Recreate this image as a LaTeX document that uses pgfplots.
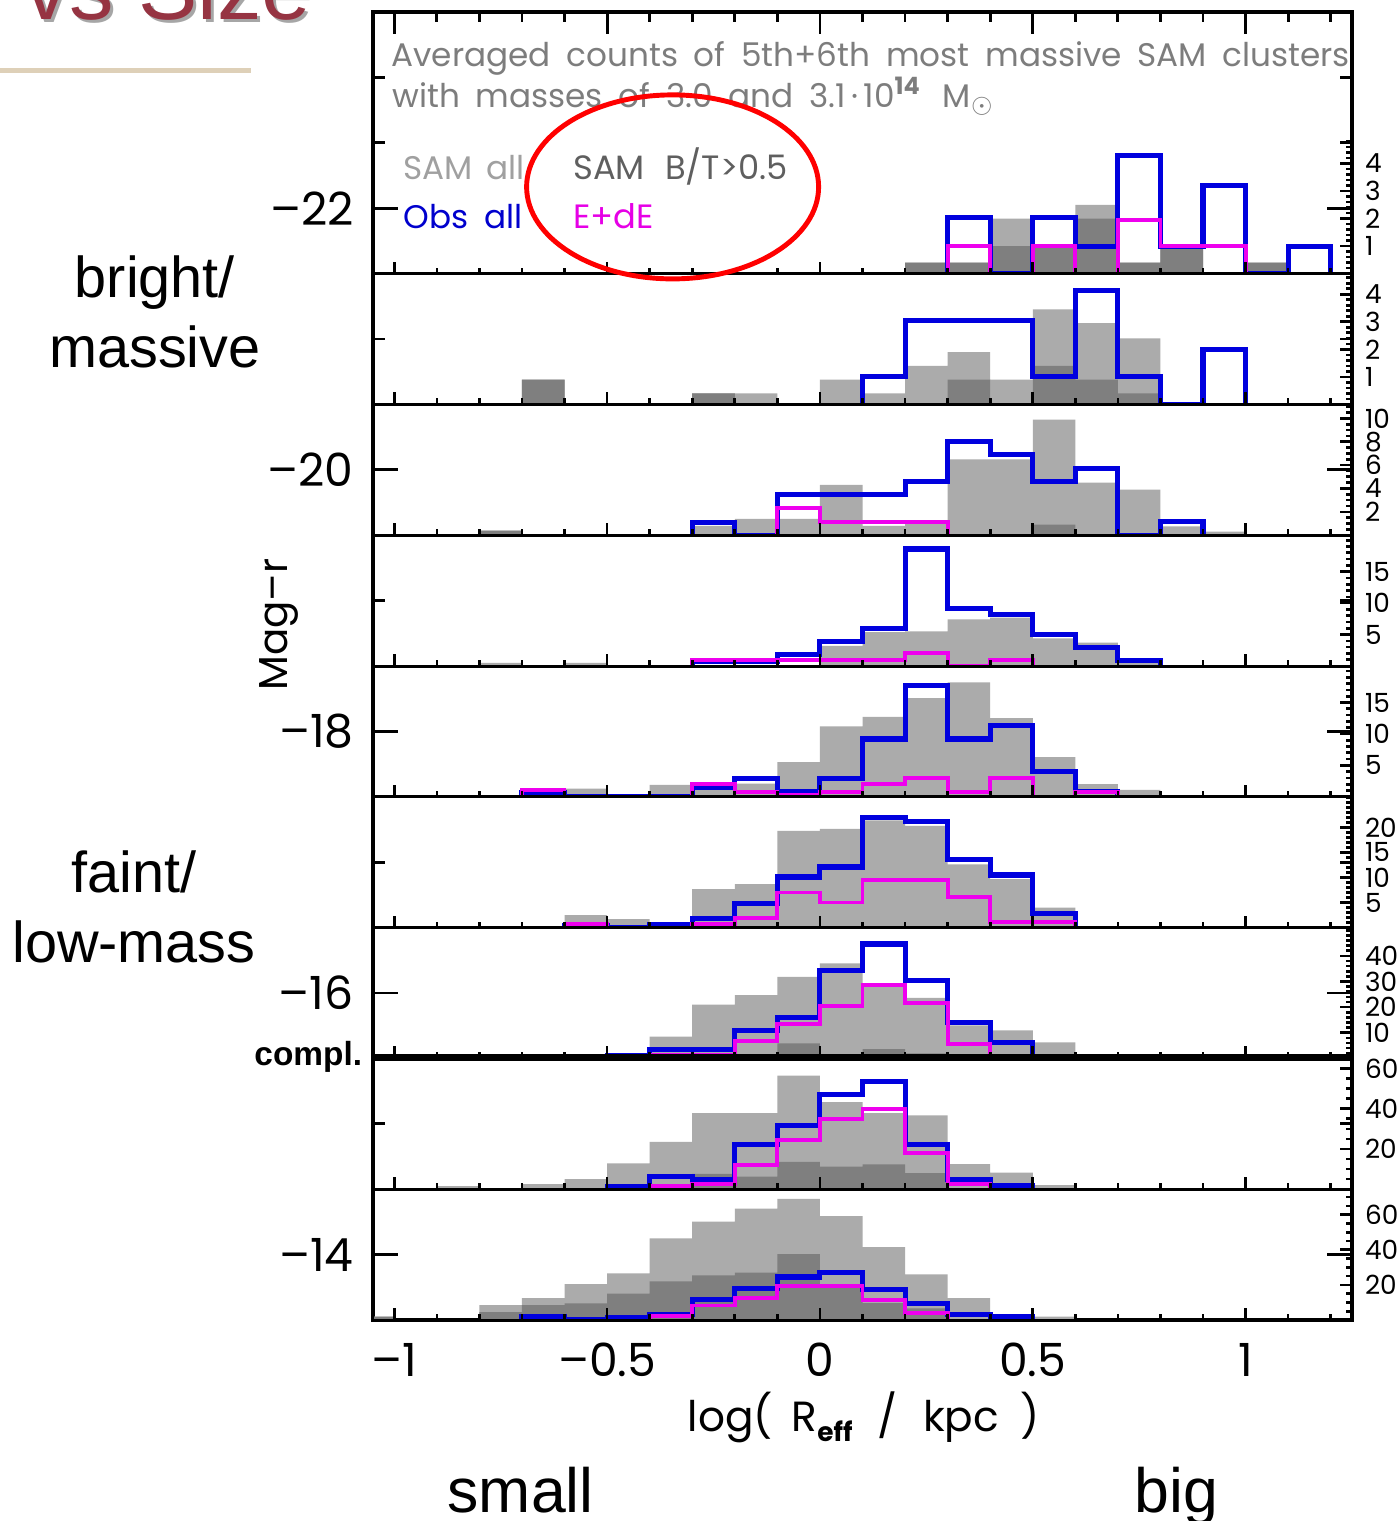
\documentclass[border=0pt]{standalone}
\usepackage{pgfplots}
\usepackage{pgfplotstable}
\pgfplotsset{compat=1.18}
\usepackage{fontspec}
\setmainfont{Liberation Sans}
\newfontfamily\idl{Poppins}[WordSpace=1.8]
\definecolor{lgray}{RGB}{171,171,171}
\definecolor{dgray}{RGB}{127,127,127}
\definecolor{oblue}{RGB}{0,0,222}
\definecolor{emag}{RGB}{238,0,238}
\definecolor{titlered}{RGB}{150,52,66}
\definecolor{tanline}{RGB}{222,208,184}
\definecolor{hdrgray}{RGB}{125,125,125}
\definecolor{samall}{RGB}{160,160,160}
\definecolor{sambt}{RGB}{95,95,95}
\definecolor{legblue}{RGB}{0,0,205}
\definecolor{legmag}{RGB}{230,0,230}

% SAM histograms: L = SAM all (light gray), D = SAM B/T>0.5 (dark gray); x = left bin edge
\pgfplotstableread{
x L D
0.2 0 0
0.2 0.4 0.4
0.3 0.4 0.4
0.4 2.0 1.0
0.5 1.0 1.0
0.6 2.5 2.0
0.7 0.4 0.4
0.8 1.0 1.0
0.9 0 0
1.0 0.4 0.4
1.1 0 0
}\Pone
\pgfplotstableread{
x L D
-0.7 0 0
-0.7 0.9 0.9
-0.6 0 0
-0.3 0.4 0.4
-0.2 0.4 0
-0.1 0 0
0.0 0.9 0
0.1 0.4 0
0.2 1.4 0
0.3 1.9 0.9
0.4 0.9 0
0.5 3.45 1.4
0.6 2.95 0.9
0.7 2.4 0.4
0.8 0 0
}\Ptwo
\pgfplotstableread{
x L D
-0.8 0 0
-0.8 0.4 0.4
-0.7 0 0
-0.3 0.8 0
-0.2 1.4 0
-0.1 1.4 0
0.0 4.3 0
0.1 0.8 0
0.2 1.0 0
0.3 6.5 0
0.4 6.5 0
0.5 9.9 0.9
0.6 4.5 0
0.7 3.9 0
0.8 0.75 0
0.9 0.3 0
1.0 0 0
}\Pthree
\pgfplotstableread{
x L D
-0.8 0 0
-0.8 0.5 0
-0.7 0 0
-0.6 0.5 0
-0.5 0 0
0.0 3.2 0
0.1 5.4 0
0.2 5.5 0
0.3 7.4 0
0.4 7.7 0
0.5 4.4 0
0.6 3.7 0
0.7 0.9 0
0.8 0 0
}\Pfour
\pgfplotstableread{
x L D
-0.6 0 0
-0.6 1.3 0
-0.5 0 0
-0.4 1.9 0
-0.3 1.5 0
-0.2 2.1 0
-0.1 5.5 0
0.0 11.2 0
0.1 12.7 0
0.2 15.7 0
0.3 18.2 0
0.4 12.5 0
0.5 6.3 0
0.6 2.0 0
0.7 1.1 0
0.8 0 0
}\Pfive
\pgfplotstableread{
x L D
-0.6 0 0
-0.6 2.5 0
-0.5 1.7 0
-0.4 0 0
-0.3 7.7 0
-0.2 8.7 0
-0.1 19.3 0.3
0.0 19.7 0
0.1 21.4 0
0.2 20.3 0
0.3 12.6 0
0.4 9.7 0
0.5 4.0 0
0.6 0 0
}\Psix
\pgfplotstableread{
x L D
-0.8 0 0
-0.8 1.0 0
-0.7 1.2 0
-0.6 1.5 0
-0.5 0 0
-0.4 8.5 0
-0.3 21 0
-0.2 24.7 0
-0.1 31.8 5.9
0.0 37.1 1.0
0.1 28 3.6
0.2 23.6 2.0
0.3 12.9 0
0.4 10.9 0
0.5 6.3 0
0.6 0 0
}\Pseven
\pgfplotstableread{
x L D
-0.9 0 0
-0.9 1.5 0
-0.8 0 0
-0.7 2.5 0
-0.6 5.0 0
-0.5 12.8 0
-0.4 23.5 0
-0.3 37.8 7.6
-0.2 37.8 6.3
-0.1 56.4 13.6
0.0 43.3 11.2
0.1 37.8 12.4
0.2 36.7 8.0
0.3 12.5 0
0.4 8.3 0
0.5 2.0 0
0.6 0 0
}\Peight
\pgfplotstableread{
x L D
-1.1 0 0
-1.1 2 2
-1.0 0 0
-0.8 8.5 4.5
-0.7 12.5 8.5
-0.6 20.5 9.5
-0.5 26.5 15
-0.4 46.5 22
-0.3 56 25.4
-0.2 63.5 27
-0.1 69 37.5
0.0 59.2 18.5
0.1 41.5 9.6
0.2 26 6.7
0.3 12.5 0
0.4 0 0
0.5 1.9 0
0.6 0 0
}\Pnine

\pgfplotsset{
  panel/.style={
    scale only axis, width=9.79cm, height=1.308cm,
    xmin=-1.05, xmax=1.25, ymin=0,
    anchor=south west,
    axis on top,
    xtick={-1,-0.5,0,0.5,1},
    minor xtick={-1,-0.9,-0.8,-0.7,-0.6,-0.5,-0.4,-0.3,-0.2,-0.1,0,0.1,0.2,0.3,0.4,0.5,0.6,0.7,0.8,0.9,1,1.1,1.2},
    xticklabels={},
    xtick pos=left, ytick pos=right, yticklabel pos=right,
    tick align=inside,
    major tick length=0.12cm, minor tick length=0.06cm,
    every tick/.style={black, line width=0.75pt},
    axis line style={line width=0.85pt},
    /pgf/number format/assume math mode=true,
    yticklabel style={font=\idl\fontsize{7.5}{8}\selectfont, inner sep=1pt, xshift=2.5pt},
    every axis plot/.append style={const plot mark left},
  },
  lfill/.style={fill=lgray, draw=none},
  dfill/.style={fill=dgray, draw=none},
  bline/.style={oblue, line width=1.45pt},
  mline/.style={emag, line width=1.1pt},
}

\newcommand{\sam}[1]{%
  \addplot[lfill] table[x=x,y=L]{#1} \closedcycle;
  \addplot[dfill] table[x=x,y=D]{#1} \closedcycle;
}

\begin{document}
\begin{tikzpicture}
% main frame (magnitude axis)
\begin{axis}[
  scale only axis, width=9.79cm, height=13.08cm,
  at={(3.73cm,-13.2cm)}, anchor=south west,
  xmin=-1.05, xmax=1.25, ymin=-23.5, ymax=-13.5, y dir=reverse,
  xtick=\empty,
  ytick={-22,-20,-18,-16,-14},
  yticklabels={–22,–20,–18,–16,–14},
  minor ytick={-23.5,-23,...,-13.5},
  ytick pos=both, yticklabel pos=left,
  tick align=inside,
  major tick length=0.25cm, minor tick length=0.12cm,
  every tick/.style={black, line width=0.8pt},
  axis line style={line width=0.9pt},
  yticklabel style={font=\idl\fontsize{13}{14}\selectfont, xshift=-2pt},
]
\end{axis}

% top ticks of the top panel
\begin{axis}[
  scale only axis, width=9.79cm, height=2.616cm,
  at={(3.73cm,-2.736cm)}, anchor=south west,
  xmin=-1.05, xmax=1.25, ymin=0, ymax=1,
  axis line style={draw=none},
  xtick={-1,-0.5,0,0.5,1},
  minor xtick={-1,-0.9,-0.8,-0.7,-0.6,-0.5,-0.4,-0.3,-0.2,-0.1,0,0.1,0.2,0.3,0.4,0.5,0.6,0.7,0.8,0.9,1,1.1,1.2},
  xticklabels={}, xtick pos=right, ytick=\empty,
  tick align=inside,
  major tick length=0.22cm, minor tick length=0.1cm,
  every tick/.style={black, line width=0.8pt},
]
\end{axis}

% panel 1 (top, double height)
\begin{axis}[panel, at={(3.73cm,-2.736cm)}, height=2.616cm, ymax=9.5,
  ytick={1,2,3,4}, minor ytick={0.2,0.4,...,4.81}]
\sam{\Pone}
\addplot[bline] coordinates {(0.3,0)(0.3,2.05)(0.4,0)(0.5,2.05)(0.6,1.0)(0.7,4.3)(0.8,1.0)(0.9,3.2)(1.0,0)(1.1,1.0)(1.2,0)};
\addplot[mline] coordinates {(0.3,0)(0.3,1.0)(0.4,0)(0.5,1.0)(0.6,0)(0.7,1.95)(0.8,1.0)(1.0,0)};
\end{axis}
% panel 2
\begin{axis}[panel, at={(3.73cm,-4.044cm)}, ymax=4.75,
  ytick={1,2,3,4}, minor ytick={0.2,0.4,...,4.61}]
\sam{\Ptwo}
\addplot[bline] coordinates {(0.1,0)(0.1,1.0)(0.2,3.05)(0.5,1.0)(0.6,4.15)(0.7,1.0)(0.8,0)(0.9,2.0)(1.0,0)};
\end{axis}
% panel 3
\begin{axis}[panel, at={(3.73cm,-5.352cm)}, ymax=11.2,
  ytick={2,4,6,8,10}, minor ytick={0.5,1,...,11}]
\sam{\Pthree}
\addplot[bline] coordinates {(-0.3,0)(-0.3,1.1)(-0.2,0)(-0.1,3.5)(0.2,4.6)(0.3,8.0)(0.4,6.9)(0.5,4.6)(0.6,5.7)(0.7,0)(0.8,1.2)(0.9,0)};
\addplot[mline] coordinates {(-0.1,0)(-0.1,2.3)(0.0,1.15)(0.3,0)};
\end{axis}
% panel 4
\begin{axis}[panel, at={(3.73cm,-6.660cm)}, ymax=20.8,
  ytick={5,10,15}, minor ytick={1,2,...,20}]
\sam{\Pfour}
\addplot[bline] coordinates {(-0.3,0)(-0.3,0.8)(-0.1,1.9)(0.0,3.9)(0.1,6.0)(0.2,18.6)(0.3,9.2)(0.4,8.2)(0.5,5.0)(0.6,3.0)(0.7,0.9)(0.8,0)};
\addplot[mline] coordinates {(-0.3,0)(-0.3,0.9)(-0.1,1.0)(0.2,2.1)(0.3,0)(0.4,1.0)(0.5,0)};
\end{axis}
% panel 5
\begin{axis}[panel, at={(3.73cm,-7.968cm)}, ymax=20.8,
  ytick={5,10,15}, minor ytick={1,2,...,20}]
\sam{\Pfive}
\addplot[bline] coordinates {(-0.7,0)(-0.7,0.7)(-0.6,0)(-0.3,1.5)(-0.2,2.9)(-0.1,0.8)(0.0,2.9)(0.1,9.2)(0.2,17.7)(0.3,9.2)(0.4,11.4)(0.5,4.0)(0.6,0.8)(0.7,0)};
\addplot[mline] coordinates {(-0.7,0)(-0.7,1.1)(-0.6,0)(-0.3,2.0)(-0.2,0.8)(-0.1,0.3)(0.0,0.8)(0.1,2.0)(0.2,3.0)(0.3,0.8)(0.4,3.0)(0.5,0)(0.6,0.8)(0.7,0)};
\end{axis}
% panel 6
\begin{axis}[panel, at={(3.73cm,-9.276cm)}, ymax=26.1,
  ytick={5,10,15,20}, minor ytick={1,2,...,26}]
\sam{\Psix}
\addplot[bline] coordinates {(-0.6,0)(-0.6,0.5)(-0.5,0)(-0.4,0.7)(-0.3,1.9)(-0.2,4.9)(-0.1,10.1)(0.0,12.1)(0.1,22.0)(0.2,21.2)(0.3,13.6)(0.4,10.5)(0.5,2.8)(0.6,0)};
\addplot[mline] coordinates {(-0.6,0)(-0.6,0.8)(-0.5,0)(-0.3,0.7)(-0.2,2.0)(-0.1,7.0)(0.0,5.0)(0.1,9.5)(0.3,6.1)(0.4,1.1)(0.6,0)};
\end{axis}
% panel 7
\begin{axis}[panel, at={(3.73cm,-10.584cm)}, ymax=51,
  ytick={10,20,30,40}, minor ytick={2,4,...,50}]
\sam{\Pseven}
\addplot[bline] coordinates {(-0.5,0)(-0.5,1.0)(-0.4,3.3)(-0.2,10.8)(-0.1,15.8)(0.0,34.2)(0.1,44.6)(0.2,30.3)(0.3,13.9)(0.4,6.3)(0.5,0)};
\addplot[mline] coordinates {(-0.4,0)(-0.4,1.3)(-0.2,6.8)(-0.1,13.4)(0.0,20.4)(0.1,28.6)(0.2,21.5)(0.3,5.6)(0.4,0)};
\end{axis}
% panel 8
\begin{axis}[panel, at={(3.73cm,-11.892cm)}, ymax=65,
  ytick={20,40,60}, minor ytick={5,10,...,65}]
\sam{\Peight}
\addplot[bline] coordinates {(-0.5,0)(-0.5,1.3)(-0.4,6.5)(-0.3,5.0)(-0.2,22.0)(-0.1,31.5)(0.0,47.0)(0.1,53.5)(0.2,22.2)(0.3,5.0)(0.4,1.7)(0.5,0)};
\addplot[mline] coordinates {(-0.4,0)(-0.4,1.6)(-0.3,2.5)(-0.2,12.0)(-0.1,24.5)(0.0,34.9)(0.1,40.0)(0.2,18.0)(0.3,2.5)(0.4,0)};
\end{axis}
% panel 9 (bottom, with x tick labels)
\begin{axis}[panel, at={(3.73cm,-13.2cm)}, ymax=74.5,
  ytick={20,40,60}, minor ytick={5,10,...,70},
  xticklabels={–1,–0.5,0,0.5,1},
  xticklabel style={font=\idl\fontsize{13}{14}\selectfont, yshift=-3pt}]
\sam{\Pnine}
\addplot[bline] coordinates {(-0.7,0)(-0.7,2.0)(-0.6,0)(-0.5,1.4)(-0.4,3.2)(-0.3,11.8)(-0.2,17.9)(-0.1,24.5)(0.0,27)(0.1,17.3)(0.2,9.6)(0.3,2.9)(0.4,1.9)(0.5,0)};
\addplot[mline] coordinates {(-0.4,0)(-0.4,2.3)(-0.3,8.3)(-0.2,12.7)(-0.1,19.4)(0.1,11.5)(0.2,3.8)(0.3,0)};
\end{axis}

\begin{scope}[x=0.01cm, y=-0.01cm]
  % completeness limit
  \draw[line width=1.9pt] (373,1058.4) -- (1352,1058.4);
  \node[anchor=base east, inner sep=0, font=\bfseries\fontsize{9.5}{11}\selectfont] at (363,1066) {compl.};
  % header texts in the top panel
  \node[anchor=base west, inner sep=0, text=hdrgray, font=\idl\fontsize{9.3}{10}\selectfont] at (391,67)
    {Averaged counts of 5th+6th most massive SAM clusters};
  \node[anchor=base west, inner sep=0, text=hdrgray, font=\idl\fontsize{9.3}{10}\selectfont] at (392,108)
    {with masses of 3.0 and 3.1\,·\,10\raisebox{0.75ex}{\fontsize{6.8}{7}\selectfont\bfseries 14}\hspace{0.7em}M$_\odot$};
  \node[anchor=base west, inner sep=0, text=samall, font=\idl\fontsize{9.3}{11}\selectfont] at (403,180) {SAM\hspace{0.42em}all};
  \node[anchor=base west, inner sep=0, text=sambt, font=\idl\fontsize{9.6}{11}\selectfont] at (573,180) {SAM\hspace{0.6em}B/T>0.5};
  \node[anchor=base west, inner sep=0, text=legblue, font=\idl\fontsize{9.3}{11}\selectfont] at (403,229) {Obs\hspace{0.5em}all};
  \node[anchor=base west, inner sep=0, text=legmag, font=\idl\fontsize{9.6}{11}\selectfont] at (573,229) {E+dE};
  % red ellipse
  \draw[red, line width=1.4pt] (673,187) ellipse [x radius=1.46cm, y radius=0.92cm];
  % axis titles
  \node[rotate=90, inner sep=0, font=\idl\fontsize{11.5}{13}\selectfont] at (279,625) {Mag–r};
  \node[anchor=base, inner sep=0, font=\idl\fontsize{12}{14}\selectfont] at (864,1432)
    {log(\hspace{0.45em}R\raisebox{-0.45ex}{\fontsize{7.5}{8}\selectfont\bfseries eff}\hspace{0.6em}/\hspace{0.6em}kpc\hspace{0.5em})};
  % slide texts
  \node[anchor=base west, inner sep=0, font=\fontsize{25.3}{28}\selectfont, text=black!35] at (27,23) {vs Size};
  \node[anchor=base west, inner sep=0, font=\fontsize{25.3}{28}\selectfont, text=titlered] at (24,20) {vs Size};
  \draw[tanline, line width=1.4pt] (0,70.5) -- (251,70.5);
  \node[anchor=base, inner sep=0, font=\fontsize{16.4}{18}\selectfont] at (155,298) {bright/};
  \node[anchor=base, inner sep=0, font=\fontsize{16.4}{18}\selectfont] at (155,368) {massive};
  \node[anchor=base, inner sep=0, font=\fontsize{16.4}{18}\selectfont] at (134,893) {faint/};
  \node[anchor=base, inner sep=0, font=\fontsize{16.4}{18}\selectfont] at (134,963) {low-mass};
  \node[anchor=base, inner sep=0, font=\fontsize{17.8}{20}\selectfont] at (521,1513) {small};
  \node[anchor=base, inner sep=0, font=\fontsize{17.8}{20}\selectfont] at (1177,1513) {big};
\end{scope}

\pgfresetboundingbox
\path[use as bounding box] (0,0) rectangle (14cm,-15.21cm);
\end{tikzpicture}
\end{document}
